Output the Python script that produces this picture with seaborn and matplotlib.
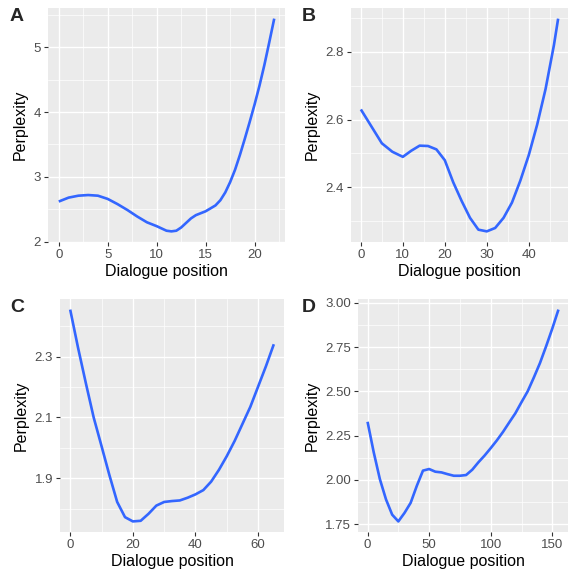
import matplotlib
matplotlib.use("Agg")
import matplotlib.pyplot as plt
import matplotlib.ticker as mticker
import seaborn as sns
import pandas as pd

# Values (smoothed perplexity curves)
a_pos = [0, 1, 2, 3, 4, 5, 6, 7, 8, 9, 10, 11, 11.5, 12, 12.5, 13, 13.5, 14, 15, 16, 16.5,
         17, 17.5, 18, 18.5, 19, 19.5, 20, 20.5, 21, 21.5, 22]
a_ppl = [2.62, 2.68, 2.71, 2.72, 2.71, 2.66, 2.58, 2.49, 2.39, 2.30, 2.24, 2.17, 2.16, 2.17,
         2.22, 2.29, 2.36, 2.41, 2.47, 2.56, 2.64, 2.76, 2.92, 3.11, 3.34, 3.59, 3.85, 4.12,
         4.41, 4.73, 5.08, 5.44]

b_pos = [0, 2.5, 5, 7.5, 10, 12, 14, 16, 18, 20, 22, 24, 26, 28, 30, 32, 34, 36, 38, 40,
         42, 44, 46, 47]
b_ppl = [2.63, 2.58, 2.53, 2.505, 2.49, 2.508, 2.523, 2.522, 2.512, 2.48, 2.415, 2.36, 2.31,
         2.275, 2.27, 2.28, 2.31, 2.355, 2.42, 2.495, 2.585, 2.69, 2.82, 2.898]

c_pos = [0, 2.5, 5, 7.5, 10, 12.5, 15, 17.5, 20, 22.5, 25, 27.5, 30, 32.5, 35, 37.5, 40,
         42.5, 45, 47.5, 50, 52.5, 55, 57.5, 60, 62.5, 65]
c_ppl = [2.455, 2.33, 2.213, 2.10, 2.006, 1.911, 1.822, 1.772, 1.758, 1.76, 1.783, 1.81,
         1.822, 1.825, 1.827, 1.836, 1.847, 1.861, 1.889, 1.928, 1.973, 2.023, 2.079, 2.135,
         2.202, 2.269, 2.341]

d_pos = [0, 5, 10, 15, 20, 25, 30, 35, 40, 45, 50, 55, 60, 65, 70, 75, 80, 85, 90, 95, 100,
         105, 110, 115, 120, 125, 130, 135, 140, 145, 150, 155]
d_ppl = [2.328, 2.156, 2.004, 1.889, 1.803, 1.765, 1.813, 1.87, 1.966, 2.052, 2.061, 2.046,
         2.042, 2.032, 2.023, 2.023, 2.027, 2.057, 2.099, 2.137, 2.179, 2.223, 2.271, 2.324,
         2.376, 2.439, 2.50, 2.578, 2.66, 2.755, 2.855, 2.962]

panels = [
    ("A", a_pos, a_ppl, [0, 5, 10, 15, 20], [2, 3, 4, 5], "{:.0f}"),
    ("B", b_pos, b_ppl, [0, 10, 20, 30, 40], [2.4, 2.6, 2.8], "{:.1f}"),
    ("C", c_pos, c_ppl, [0, 20, 40, 60], [1.9, 2.1, 2.3], "{:.1f}"),
    ("D", d_pos, d_ppl, [0, 50, 100, 150], [1.75, 2.0, 2.25, 2.5, 2.75, 3.0], "{:.2f}"),
]

sns.set_theme(style="darkgrid", rc={
    "axes.facecolor": "#EBEBEB",
    "grid.color": "white",
    "axes.edgecolor": "#EBEBEB",
})
plt.rcParams["font.family"] = ["Liberation Sans", "DejaVu Sans"]

fig = plt.figure(figsize=(5.71, 5.76), dpi=100)
W, H = 571, 576
# axes boxes in pixels: left, top, right, bottom
boxes = [(48, 8, 285, 242), (351, 8, 568, 242), (60, 299, 284, 532), (358, 299, 568, 532)]
label_pos = [(10, 8), (302, 8), (10, 299), (302, 299)]

for (name, xs, ys, xt, yt, fmt), (l, t, r, b), (lx, ly) in zip(panels, boxes, label_pos):
    ax = fig.add_axes([l / W, 1 - b / H, (r - l) / W, (b - t) / H])
    df = pd.DataFrame({"pos": xs, "ppl": ys})
    sns.lineplot(data=df, x="pos", y="ppl", ax=ax, color="#3366FF", linewidth=1.9,
                 solid_joinstyle="round", solid_capstyle="butt")
    ax.margins(0.05)

    ax.xaxis.set_major_locator(mticker.FixedLocator(xt))
    ax.yaxis.set_major_locator(mticker.FixedLocator(yt))
    xm = [(xt[i] + xt[i + 1]) / 2 for i in range(len(xt) - 1)]
    ym = [(yt[i] + yt[i + 1]) / 2 for i in range(len(yt) - 1)]
    dx, dy = xt[1] - xt[0], yt[1] - yt[0]
    ax.xaxis.set_minor_locator(mticker.FixedLocator([xt[0] - dx / 2] + xm + [xt[-1] + dx / 2]))
    ax.yaxis.set_minor_locator(mticker.FixedLocator([yt[0] - dy / 2] + ym + [yt[-1] + dy / 2]))
    ax.set_yticklabels([fmt.format(v) for v in yt])
    ax.grid(which="major", color="white", linewidth=1.0)
    ax.grid(which="minor", color="white", linewidth=0.5)
    ax.tick_params(which="major", length=3, width=0.8, color="#333333", labelcolor="#4D4D4D",
                   labelsize=9.5, pad=2, left=True, bottom=True)
    ax.tick_params(which="minor", length=0)
    for s in ax.spines.values():
        s.set_visible(False)
    ax.set_xlabel("Dialogue position", fontsize=11.5, color="black", labelpad=2)
    ax.set_ylabel("Perplexity", fontsize=11.5, color="black", labelpad=4)
    fig.text(lx / W, 1 - ly / H, name, fontsize=14, fontweight="bold", va="top", ha="left")

fig.savefig("out.png", dpi=100)
